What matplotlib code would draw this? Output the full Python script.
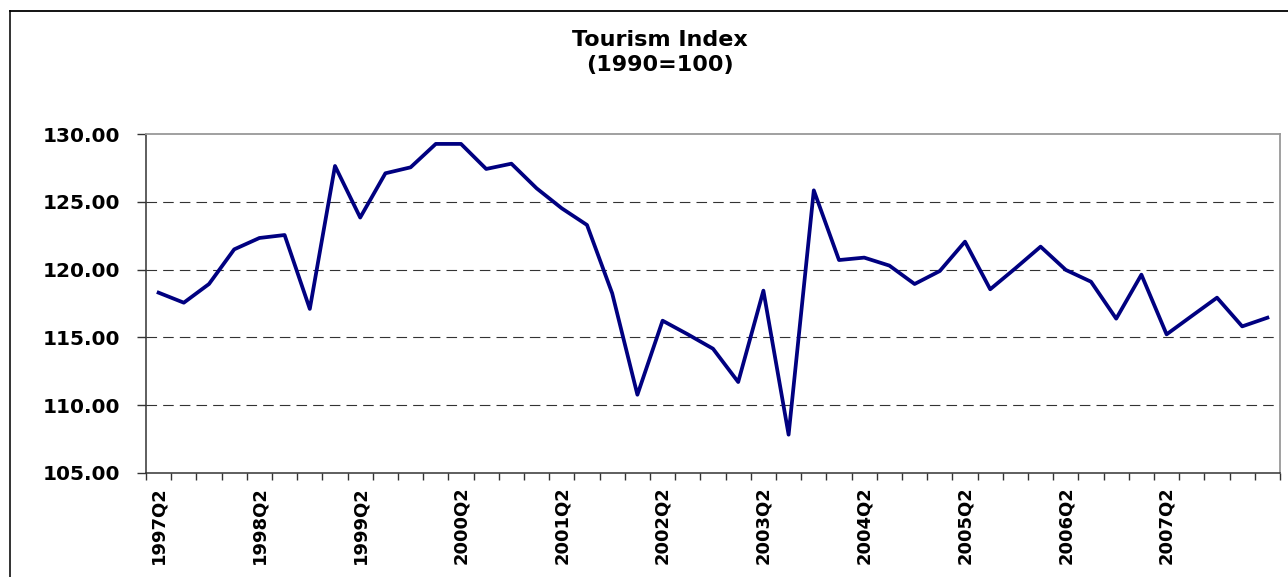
import matplotlib
matplotlib.use("Agg")
import matplotlib.pyplot as plt
from matplotlib.lines import Line2D
from matplotlib.ticker import FixedLocator, FormatStrFormatter

quarters = [
    "1997Q2", "1997Q3", "1997Q4", "1998Q1",
    "1998Q2", "1998Q3", "1998Q4", "1999Q1",
    "1999Q2", "1999Q3", "1999Q4", "2000Q1",
    "2000Q2", "2000Q3", "2000Q4", "2001Q1",
    "2001Q2", "2001Q3", "2001Q4", "2002Q1",
    "2002Q2", "2002Q3", "2002Q4", "2003Q1",
    "2003Q2", "2003Q3", "2003Q4", "2004Q1",
    "2004Q2", "2004Q3", "2004Q4", "2005Q1",
    "2005Q2", "2005Q3", "2005Q4", "2006Q1",
    "2006Q2", "2006Q3", "2006Q4", "2007Q1",
    "2007Q2", "2007Q3", "2007Q4", "2008Q1",
    "2008Q2",
]

index_values = [
    118.30, 117.56, 118.94, 121.50,
    122.34, 122.56, 117.10, 127.66,
    123.85, 127.12, 127.56, 129.29,
    129.29, 127.44, 127.83, 126.01,
    124.53, 123.30, 118.25, 110.76,
    116.23, 115.22, 114.16, 111.70,
    118.45, 107.81, 125.86, 120.71,
    120.89, 120.30, 118.94, 119.90,
    122.07, 118.55, 120.10, 121.70,
    119.98, 119.11, 116.38, 119.63,
    115.22, 116.58, 117.93, 115.81,
    116.45,
]

tick_labels = ["1997Q2", "1998Q2", "1999Q2", "2000Q2", "2001Q2", "2002Q2",
               "2003Q2", "2004Q2", "2005Q2", "2006Q2", "2007Q2"]
y_ticks = [105, 110, 115, 120, 125, 130]

W, H = 1288, 577
fig = plt.figure(figsize=(W / 100, H / 100), dpi=100)
ax = fig.add_axes([146 / W, 1 - 472.7 / H, (1280 - 146) / W, (472.7 - 134.3) / H])

x = list(range(len(quarters)))
ax.plot(x, index_values, color="#000080", linewidth=2.7, solid_joinstyle="round", zorder=3)

ax.set_xlim(-0.5, len(quarters) - 0.5)
ax.set_ylim(105, 130)

# y axis
ax.set_yticks(y_ticks)
ax.yaxis.set_major_formatter(FormatStrFormatter("%.2f"))
ax.tick_params(axis="y", length=6.5, width=1.0, pad=12, labelsize=14.5, color="#333333")
for lab in ax.get_yticklabels():
    lab.set_fontweight("bold")

# dashed grid lines
for v in y_ticks[1:-1]:
    ax.axhline(v, color="#333333", linewidth=0.8, linestyle=(0, (9.5, 5.5)), zorder=1)

# x axis: labels at every 4th quarter, ticks between categories
label_pos = [quarters.index(t) for t in tick_labels]
ax.set_xticks(label_pos)
ax.set_xticklabels(tick_labels, rotation=90, fontsize=13, fontweight="bold", va="top")
ax.tick_params(axis="x", which="major", length=0, pad=9.5)
ax.xaxis.set_minor_locator(FixedLocator([i - 0.5 for i in range(len(quarters) + 1)]))
ax.tick_params(axis="x", which="minor", length=5, width=1.0, color="#333333")

for side in ["left", "bottom"]:
    ax.spines[side].set_color("#333333")
    ax.spines[side].set_linewidth(1.1)
for side in ["top", "right"]:
    ax.spines[side].set_color("#999999")
    ax.spines[side].set_linewidth(1.3)

fig.text(660 / W, 1 - 40 / H, "Tourism Index", ha="center", va="center",
         fontsize=16, fontweight="bold")
fig.text(660 / W, 1 - 65 / H, "(1990=100)", ha="center", va="center",
         fontsize=16, fontweight="bold")

# outer chart border (left and top edges visible)
fig.add_artist(Line2D([10 / W, 10 / W], [0, 1 - 10.5 / H], transform=fig.transFigure,
                      color="#222222", linewidth=1.3))
fig.add_artist(Line2D([10 / W, 1], [1 - 10.5 / H, 1 - 10.5 / H], transform=fig.transFigure,
                      color="black", linewidth=1.3))

fig.savefig("out.png", dpi=100)
